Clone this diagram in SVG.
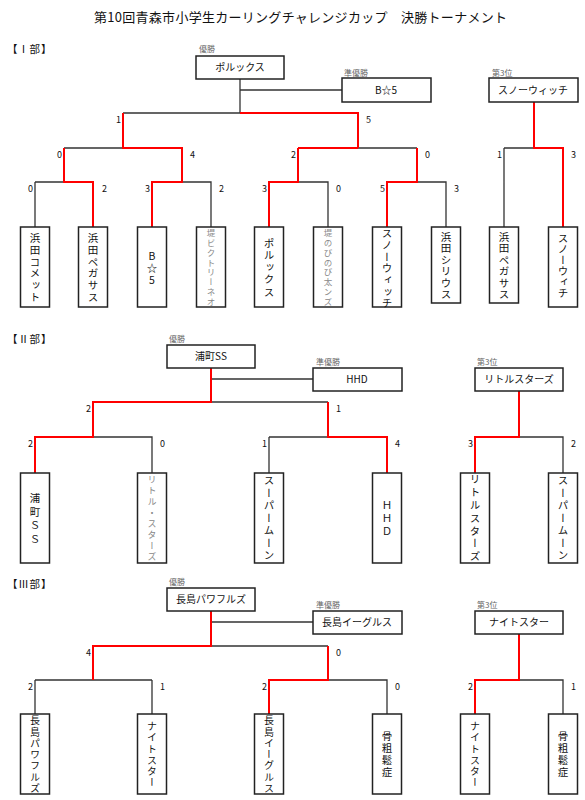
<svg xmlns="http://www.w3.org/2000/svg" width="585" height="800" viewBox="0 0 585 800">
<style>
text { font-family: "Noto Sans CJK JP", "Liberation Sans", sans-serif; fill: #111; }
.title { font-size: 13px; }
.sec { font-size: 10.5px; letter-spacing: 0.8px; }
.cap { font-size: 8px; fill: #666; }
.sc { font-size: 9px; }
.scl { font-size: 9px; text-anchor: end; }
.hb { font-size: 10px; text-anchor: middle; }
.v { writing-mode: vertical-rl; text-orientation: upright; text-anchor: middle; font-size: 10.5px; }
.g { fill: #888; }
rect { fill: #fff; stroke: #222; stroke-width: 1.5; }
.bk { fill: none; stroke: #333; stroke-width: 1.3; }
.rd { fill: none; stroke: #ff0000; stroke-width: 2; }
</style>
<rect x="0" y="0" width="585" height="800" style="stroke:none;fill:#fff"/>
<text class="title" x="94" y="22" textLength="413" lengthAdjust="spacing">第10回青森市小学生カーリングチャレンジカップ　決勝トーナメント</text>

<g id="labels">
<text class="sec" x="7" y="53">【Ⅰ部】</text>
<text class="cap" x="199" y="52">優勝</text>
<text class="cap" x="344" y="76">準優勝</text>
<text class="cap" x="492" y="76">第3位</text>
<text class="sec" x="7" y="343">【Ⅱ部】</text>
<text class="cap" x="169" y="342">優勝</text>
<text class="cap" x="316" y="365">準優勝</text>
<text class="cap" x="477" y="365">第3位</text>
<text class="sec" x="7" y="588">【Ⅲ部】</text>
<text class="cap" x="169" y="585">優勝</text>
<text class="cap" x="316" y="608">準優勝</text>
<text class="cap" x="477" y="608">第3位</text>
</g>

<g id="connectors">
<path class="bk" d="M240,79 V113 M240,90 H342 M123,113 H240 M64,148 H123 M358,148 H417 M35,182 H64 M35,182 V227 M182,182 H211 V227 M298,182 H328 V227 M417,182 H446 V227 M504,148 H534 M504,148 V227"/>
<path class="rd" d="M240,113 H358 V148 M123,113 V148 H182 V182 H152 V227 M64,148 V182 H93 V227 M298,148 H358 M298,148 V182 H269 V227 M417,148 V182 H387 V227 M534,102 V148 H563 V227"/>
<path class="bk" d="M211,379 H313 M211,402 H328 M93,437 H152 V473 M269,437 H328 M269,437 V473 M519,437 H563 V473"/>
<path class="rd" d="M211,368 V402 H93 V437 H35 V473 M328,402 V437 H387 V473 M519,391 V437 H475 V473"/>
<path class="bk" d="M211,622 H313 M211,646 H328 M35,680 H152 M35,680 V714 M152,680 V714 M328,680 H387 V714 M519,680 H563 V714"/>
<path class="rd" d="M211,611 V646 H93 V680 M328,646 V680 H269 V714 M519,634 V680 H475 V714"/>
</g>

<g id="scores">
<text class="scl" x="121" y="123">1</text><text class="sc" x="366" y="123">5</text>
<text class="scl" x="62" y="158">0</text><text class="sc" x="190" y="158">4</text>
<text class="scl" x="296" y="158">2</text><text class="sc" x="425" y="158">0</text>
<text class="scl" x="33" y="192">0</text><text class="sc" x="102" y="192">2</text>
<text class="scl" x="150" y="192">3</text><text class="sc" x="219" y="192">2</text>
<text class="scl" x="267" y="192">3</text><text class="sc" x="336" y="192">0</text>
<text class="scl" x="385" y="192">5</text><text class="sc" x="454" y="192">3</text>
<text class="scl" x="502" y="158">1</text><text class="sc" x="571" y="158">3</text>

<text class="scl" x="91" y="412">2</text><text class="sc" x="336" y="412">1</text>
<text class="scl" x="33" y="447">2</text><text class="sc" x="160" y="447">0</text>
<text class="scl" x="267" y="447">1</text><text class="sc" x="395" y="447">4</text>
<text class="scl" x="473" y="447">3</text><text class="sc" x="571" y="447">2</text>

<text class="scl" x="91" y="656">4</text><text class="sc" x="336" y="656">0</text>
<text class="scl" x="33" y="690">2</text><text class="sc" x="160" y="690">1</text>
<text class="scl" x="267" y="690">2</text><text class="sc" x="395" y="690">0</text>
<text class="scl" x="473" y="690">2</text><text class="sc" x="571" y="690">1</text>
</g>

<g id="s1-winner"><rect x="196" y="56" width="88" height="23"/><text class="hb" x="240" y="71">ポルックス</text></g>
<g id="s1-runnerup"><rect x="342" y="78" width="89" height="24"/><text class="hb" x="386" y="94">B☆5</text></g>
<g id="s1-third"><rect x="489" y="78" width="89" height="24"/><text class="hb" x="533" y="94">スノーウィッチ</text></g>

<g id="s1-t1"><rect x="20.5" y="227" width="29" height="80"/><text class="v" x="35" y="268" style="letter-spacing:1.2px">浜田コメット</text></g>
<g id="s1-t2"><rect x="78.5" y="227" width="29" height="80"/><text class="v" x="93" y="268" style="letter-spacing:1.2px">浜田ペガサス</text></g>
<g id="s1-t3"><rect x="137.5" y="227" width="29" height="80"/><text class="v" x="152" y="269" style="letter-spacing:1.5px">B☆5</text></g>
<g id="s1-t4"><rect x="196.5" y="227" width="29" height="80"/><text class="v g" x="211" y="268" style="font-size:8.5px;letter-spacing:1.3px">堤ビクトリーネオ</text></g>
<g id="s1-t5"><rect x="254.5" y="227" width="29" height="80"/><text class="v" x="269" y="268" style="letter-spacing:1.7px">ポルックス</text></g>
<g id="s1-t6"><rect x="313.5" y="227" width="29" height="80"/><text class="v g" x="328" y="268" style="font-size:8.5px;letter-spacing:1.3px">堤のびのび太ンズ</text></g>
<g id="s1-t7"><rect x="372.5" y="227" width="29" height="80"/><text class="v" x="387" y="269" style="letter-spacing:1.2px">スノーウィッチ</text></g>
<g id="s1-t8"><rect x="431.5" y="227" width="29" height="76"/><text class="v" x="446" y="266" style="letter-spacing:1px">浜田シリウス</text></g>
<g id="s1-t9"><rect x="489.5" y="227" width="29" height="76"/><text class="v" x="504" y="266" style="letter-spacing:1px">浜田ペガサス</text></g>
<g id="s1-t10"><rect x="548.5" y="227" width="29" height="80"/><text class="v" x="563" y="266" style="letter-spacing:0.5px">スノーウィチ</text></g>

<g id="s2-winner"><rect x="167" y="345" width="88" height="23"/><text class="hb" x="211" y="360">浦町SS</text></g>
<g id="s2-runnerup"><rect x="313" y="368" width="89" height="23"/><text class="hb" x="357" y="383">HHD</text></g>
<g id="s2-third"><rect x="475" y="368" width="88" height="23"/><text class="hb" x="519" y="383">リトルスターズ</text></g>

<g id="s2-t1"><rect x="20.5" y="473" width="29" height="90"/><text class="v" x="35" y="520" style="letter-spacing:3px">浦町ＳＳ</text></g>
<g id="s2-t2"><rect x="137.5" y="473" width="29" height="90"/><text class="v g" x="152" y="519" style="font-size:9px;letter-spacing:2px">リトル・スターズ</text></g>
<g id="s2-t3"><rect x="254.5" y="473" width="29" height="90"/><text class="v" x="269" y="519" style="letter-spacing:2px">スーパームーン</text></g>
<g id="s2-t4"><rect x="372.5" y="473" width="29" height="90"/><text class="v" x="387" y="519" style="letter-spacing:2.5px">ＨＨＤ</text></g>
<g id="s2-t5"><rect x="460.5" y="473" width="29" height="90"/><text class="v" x="475" y="519" style="letter-spacing:2.3px">リトルスターズ</text></g>
<g id="s2-t6"><rect x="548.5" y="473" width="29" height="90"/><text class="v" x="563" y="519" style="letter-spacing:2px">スーパームーン</text></g>

<g id="s3-winner"><rect x="167" y="588" width="88" height="23"/><text class="hb" x="211" y="603">長島パワフルズ</text></g>
<g id="s3-runnerup"><rect x="313" y="611" width="89" height="23"/><text class="hb" x="357" y="626">長島イーグルス</text></g>
<g id="s3-third"><rect x="475" y="611" width="88" height="23"/><text class="hb" x="519" y="626">ナイトスター</text></g>

<g id="s3-t1"><rect x="20.5" y="714" width="29" height="80"/><text class="v" x="35" y="755" style="font-size:10px;letter-spacing:1.3px">長島パワフルズ</text></g>
<g id="s3-t2"><rect x="137.5" y="714" width="29" height="80"/><text class="v" x="152" y="755" style="font-size:10px;letter-spacing:1.2px">ナイトスター</text></g>
<g id="s3-t3"><rect x="254.5" y="714" width="29" height="80"/><text class="v" x="269" y="755" style="font-size:10px;letter-spacing:1.3px">長島イーグルス</text></g>
<g id="s3-t4"><rect x="372.5" y="714" width="29" height="80"/><text class="v" x="387" y="755" style="letter-spacing:1.5px">骨粗鬆症</text></g>
<g id="s3-t5"><rect x="460.5" y="714" width="29" height="80"/><text class="v" x="475" y="755" style="font-size:10px;letter-spacing:1.2px">ナイトスター</text></g>
<g id="s3-t6"><rect x="548.5" y="714" width="29" height="80"/><text class="v" x="563" y="755" style="letter-spacing:1.5px">骨粗鬆症</text></g>
</svg>
